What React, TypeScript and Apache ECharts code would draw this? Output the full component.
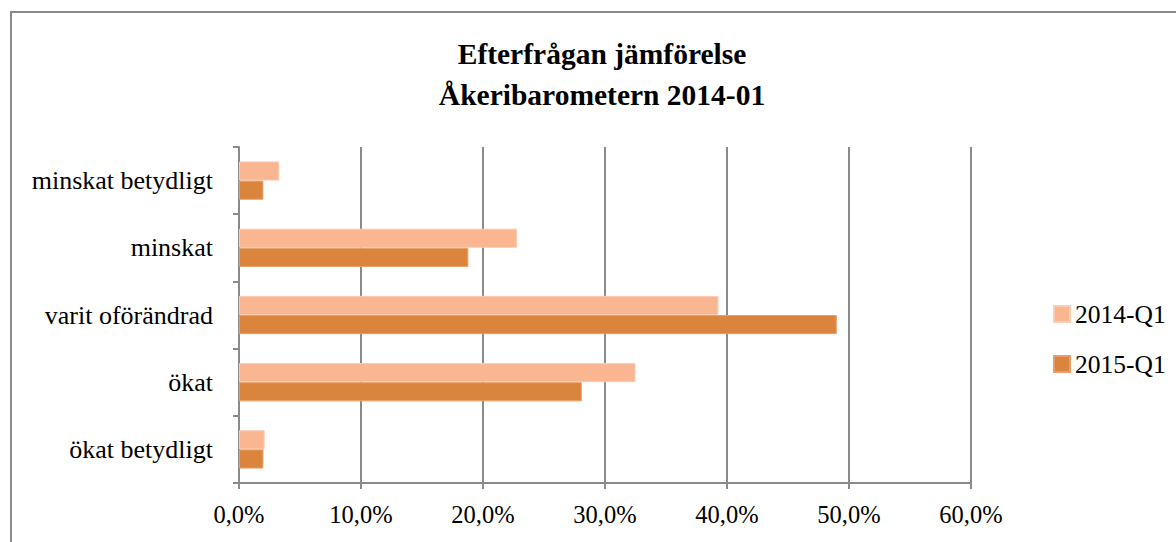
import React, { useEffect, useRef } from "react";
import * as echarts from "echarts";

const categories = ["minskat betydligt", "minskat", "varit oförändrad", "ökat", "ökat betydligt"];
const series2014 = [3.3, 22.8, 39.3, 32.5, 2.1];
const series2015 = [2.0, 18.8, 49.0, 28.1, 2.0];
const seriesNames = ["2014-Q1", "2015-Q1"];
const titleLines = ["Efterfrågan jämförelse", "Åkeribarometern 2014-01"];

const FONT = "'Liberation Serif', 'DejaVu Serif', serif";

export default function App() {
  const ref = useRef<HTMLDivElement>(null);
  useEffect(() => {
    document.body.style.margin = "0";
    const chart = echarts.init(ref.current!, null, { renderer: "svg" });
    chart.setOption({
      animation: false,
      backgroundColor: "#fff",
      textStyle: { fontFamily: FONT },
      title: {
        text: titleLines.join("\n"),
        left: 597,
        textAlign: "center",
        top: 28,
        textStyle: {
          fontFamily: FONT,
          fontSize: 29.5,
          fontWeight: "bold",
          color: "#000",
          lineHeight: 41,
        },
      },
      graphic: [
        {
          type: "rect",
          shape: { x: 11, y: 12, width: 1300, height: 700 },
          style: { fill: "none", stroke: "#8a8a8a", lineWidth: 2 },
          silent: true,
        },
      ],
      legend: {
        orient: "vertical",
        left: 1048,
        top: 296,
        itemWidth: 16,
        itemHeight: 16,
        itemGap: 24,
        icon: "rect",
        textStyle: { fontFamily: FONT, fontSize: 25.5, color: "#000" },
        data: seriesNames,
      },
      grid: { left: 239, right: 205, top: 147, bottom: 59, containLabel: false },
      xAxis: {
        type: "value",
        min: 0,
        max: 60,
        interval: 10,
        axisLine: { show: true, lineStyle: { color: "#8a8a8a", width: 2 } },
        axisTick: { show: true, length: 6, lineStyle: { color: "#8a8a8a", width: 2 } },
        splitLine: { show: true, lineStyle: { color: "#8a8a8a", width: 2 } },
        axisLabel: {
          fontFamily: FONT,
          fontSize: 24.5,
          color: "#000",
          margin: 19,
          formatter: (v: number) => v.toFixed(1).replace(".", ",") + "%",
        },
      },
      yAxis: {
        type: "category",
        inverse: true,
        data: categories,
        axisLine: { show: true, lineStyle: { color: "#8a8a8a", width: 2 } },
        axisTick: { show: true, length: 6, lineStyle: { color: "#8a8a8a", width: 2 } },
        axisLabel: { fontFamily: FONT, fontSize: 26, color: "#000", margin: 26 },
      },
      series: [
        {
          name: seriesNames[0],
          type: "bar",
          data: series2014,
          barGap: "0%",
          barCategoryGap: "43%",
          itemStyle: { color: "#F9B691", borderColor: "#FBCDB2", borderWidth: 1 },
        },
        {
          name: seriesNames[1],
          type: "bar",
          data: series2015,
          barGap: "0%",
          barCategoryGap: "43%",
          itemStyle: { color: "#DB843D", borderColor: "#E8A06A", borderWidth: 1 },
        },
      ],
    });
    return () => chart.dispose();
  }, []);
  return <div ref={ref} style={{ width: 1176, height: 542 }} />;
}
